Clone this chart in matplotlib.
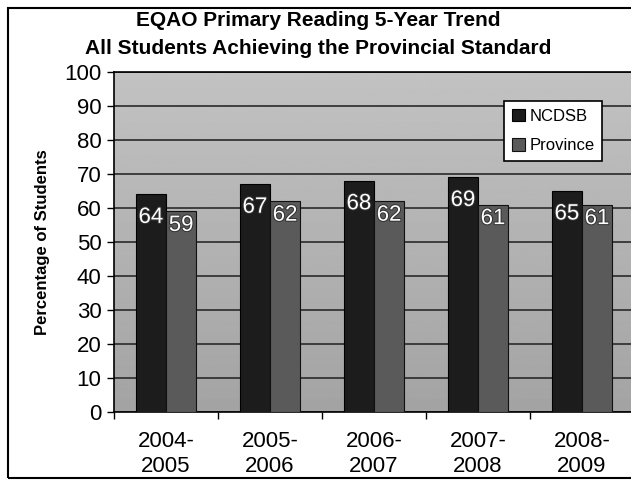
import numpy as np
import matplotlib
matplotlib.use("Agg")
import matplotlib.pyplot as plt
import matplotlib.patheffects as pe
from matplotlib.patches import Rectangle

# Data
years = ["2004-\n2005", "2005-\n2006", "2006-\n2007", "2007-\n2008", "2008-\n2009"]
ncdsb = [64, 67, 68, 69, 65]
province = [59, 62, 62, 61, 61]
series_names = ["NCDSB", "Province"]

plt.rcParams["font.family"] = ["Liberation Sans", "DejaVu Sans"]

W, H = 631, 493
fig = plt.figure(figsize=(W / 100, H / 100), dpi=100)
fig.patch.set_facecolor("white")

# plot area runs slightly past the right edge of the picture (cropped scan)
left, right, top, bottom = 114, 634, 72, 412
ax = fig.add_axes([left / W, 1 - bottom / H, (right - left) / W, (bottom - top) / H])

x = np.arange(len(years))
bw = 0.29

# grey gradient background of the plot area
grad = np.linspace(0.64, 0.76, 256).reshape(-1, 1)
ax.imshow(grad, extent=(-0.5, 4.5, 100, 0), aspect="auto", cmap="gray",
          vmin=0, vmax=1, zorder=0)

ax.set_xlim(-0.5, 4.5)
ax.set_ylim(0, 100)

ax.set_yticks(np.arange(0, 101, 10))
ax.yaxis.grid(True, color="#2a2a2a", linewidth=1.2, zorder=1)
ax.set_axisbelow(True)

b1 = ax.bar(x - bw / 2, ncdsb, bw, color="#1c1c1c", edgecolor="#000000",
            linewidth=0.8, label=series_names[0], zorder=3)
b2 = ax.bar(x + bw / 2, province, bw, color="#5a5a5a", edgecolor="#111111",
            linewidth=0.8, label=series_names[1], zorder=3)

stroke = [pe.withStroke(linewidth=1.5, foreground="#333333")]
for bars, vals, off in ((b1, ncdsb, -23), (b2, province, -14)):
    for rect, v in zip(bars, vals):
        ax.annotate(f"{v}", (rect.get_x() + rect.get_width() / 2, v),
                    xytext=(0, off), textcoords="offset pixels",
                    ha="center", va="center", fontsize=16, color="white",
                    path_effects=stroke, zorder=5)

# category boundaries carry tick marks, labels sit at category centres
ax.set_xticks(np.arange(-0.5, 5.0, 1.0))
ax.set_xticklabels([])
ax.set_xticks(x, minor=True)
ax.set_xticklabels(years, minor=True, fontsize=16, linespacing=1.2)
ax.tick_params(axis="x", which="minor", length=0, pad=14)
ax.tick_params(axis="x", which="major", length=5, width=1, direction="out")
ax.tick_params(axis="y", length=5, width=1, direction="out", labelsize=16, pad=4)

for s in ("left", "bottom", "top"):
    ax.spines[s].set_color("black")
    ax.spines[s].set_linewidth(1.2)
ax.spines["right"].set_visible(False)

fig.text(43 / W, 1 - 242 / H, "Percentage of Students", rotation=90,
         ha="center", va="center", fontsize=12, fontweight="bold")

fig.text(318 / W, 1 - 21 / H, "EQAO Primary Reading 5-Year Trend",
         ha="center", va="center", fontsize=15, fontweight="bold")
fig.text(318 / W, 1 - 49 / H, "All Students Achieving the Provincial Standard",
         ha="center", va="center", fontsize=15, fontweight="bold")

leg = ax.legend(loc="upper left", bbox_to_anchor=((504 - left) / (right - left),
                                                   1 - (101 - top) / (bottom - top)),
                fontsize=12, frameon=True, fancybox=False, handlelength=0.8,
                handleheight=0.8, handletextpad=0.3, labelspacing=0.85,
                borderpad=0.45, borderaxespad=0)
leg.get_frame().set_edgecolor("black")
leg.get_frame().set_linewidth(1.2)
leg.get_frame().set_facecolor("white")
leg.get_frame().set_alpha(1)
leg.set_zorder(10)

# outer chart border (right side cut off in the scan)
fig.patches.append(Rectangle((8 / W, 1 - 478 / H), 1.0, (478 - 8) / H,
                             transform=fig.transFigure, fill=False,
                             edgecolor="black", linewidth=1.5))

fig.savefig("out.png", dpi=100)
